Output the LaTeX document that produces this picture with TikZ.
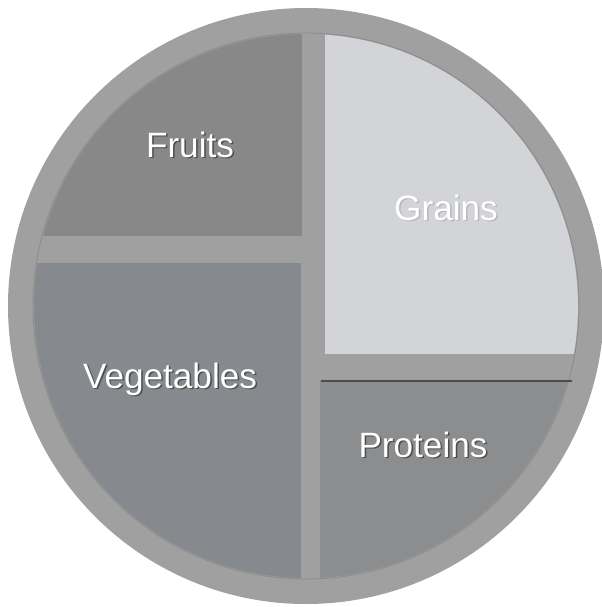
\documentclass[tikz,border=0pt]{standalone}
\usepackage{fontspec}
\setmainfont{Liberation Sans}
\usetikzlibrary{positioning}
\definecolor{rimgray}{RGB}{160,160,160}
\definecolor{fruitgray}{RGB}{136,136,136}
\definecolor{veggray}{RGB}{134,137,142}
\definecolor{graingray}{RGB}{211,212,215}
\definecolor{protgray}{RGB}{140,141,142}

\begin{document}
\begin{tikzpicture}[x=0.025cm,y=-0.025cm,
  lbl/.style={font=\fontsize{25}{30}\selectfont,text=white,anchor=base,inner sep=0pt},
  lblshadow/.style={lbl,text=black!70}]
\useasboundingbox (0,0) rectangle (602,607);
% plate
\fill[rimgray] (306,306) circle (298);
\draw[black!45,line width=0.6pt] (306,306) circle (273);
% panels
\begin{scope}
  \clip (306,306) circle (272);
  \fill[fruitgray] (30,20) rectangle (302,236);
  \fill[veggray] (30,263) rectangle (301,600);
  \fill[graingray] (325,20) rectangle (579,354);
  \fill[protgray] (320,380) rectangle (574,600);
\end{scope}
\draw[black!70,line width=0.8pt] (321,381) -- (572,381);
% labels
\foreach \nm/\x/\y/\txt in {fruits/190/157/Fruits,vegetables/170/388/Vegetables,proteins/423/457/Proteins}{
  \node[lblshadow] at (\x+1.5,\y+1.5) {\txt};
  \node[lbl] (\nm) at (\x,\y) {\txt};
}
\node[lblshadow,text=black!28] at (447.5,221.5) {Grains};
\node[lbl] (grains) at (446,220) {Grains};
\end{tikzpicture}
\end{document}
